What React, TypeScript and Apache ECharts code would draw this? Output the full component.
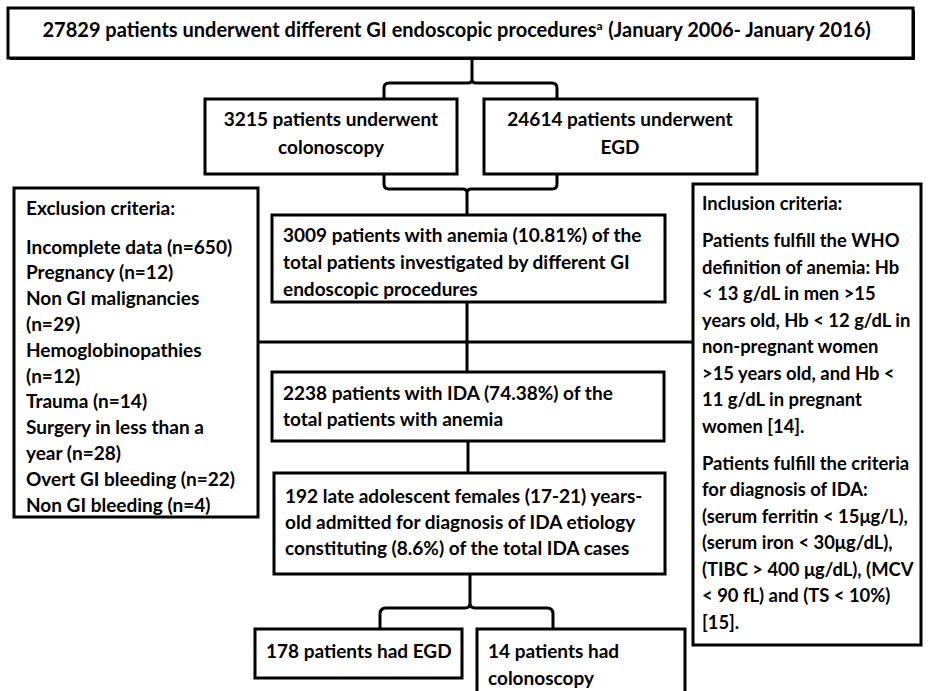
import React, { useEffect, useRef } from "react";
import * as echarts from "echarts";

// ---- content (texts and counts) ----
const titleMain = "27829 patients underwent different GI endoscopic procedures";
const titleSup = "a";
const titleTail = " (January 2006- January 2016)";
const colonoscopyLines = ["3215 patients underwent", "colonoscopy"];
const egdLines = ["24614 patients underwent", "EGD"];
const exclusionHeader = "Exclusion criteria:";
const exclusionLines = [
  "Incomplete data (n=650)",
  "Pregnancy (n=12)",
  "Non GI malignancies",
  "(n=29)",
  "Hemoglobinopathies",
  "(n=12)",
  "Trauma (n=14)",
  "Surgery in less than a",
  "year (n=28)",
  "Overt GI bleeding (n=22)",
  "Non GI bleeding (n=4)",
];
const inclusionHeader = "Inclusion criteria:";
const inclusionWho = [
  "Patients fulfill the WHO",
  "definition of anemia: Hb",
  "< 13 g/dL in men >15",
  "years old, Hb < 12 g/dL in",
  "non-pregnant women",
  ">15 years old, and Hb <",
  "11 g/dL in pregnant",
  "women [14].",
];
const inclusionIda = [
  "Patients fulfill the criteria",
  "for diagnosis of IDA:",
  "(serum ferritin < 15\u03bcg/L),",
  "(serum iron < 30\u03bcg/dL),",
  "(TIBC > 400 \u03bcg/dL), (MCV",
  "< 90 fL) and (TS < 10%)",
  "[15].",
];
const anemiaLines = [
  "3009 patients with anemia (10.81%) of the",
  "total patients investigated by different GI",
  "endoscopic procedures",
];
const idaLines = ["2238 patients with IDA (74.38%) of the", "total patients with anemia"];
const adolescentLines = [
  "192 late adolescent females (17-21) years-",
  "old admitted for diagnosis of IDA etiology",
  "constituting (8.6%) of the total IDA cases",
];
const egdFinalLines = ["178 patients had EGD"];
const colonFinalLines = ["14 patients had", "colonoscopy"];

// ---- connector shapes ----
echarts.graphic.registerShape(
  "braceTop",
  echarts.graphic.extendPath(
    "M472 59 L472 79 Q472 83 468 83 L389 83 Q384 83 384 88 L384 99 M472 79 Q472 83 476 83 L552 83 Q557 83 557 88 L557 99",
    {}
  )
);
echarts.graphic.registerShape(
  "braceMid",
  echarts.graphic.extendPath(
    "M384 174 L384 184 Q384 189 389 189 L463 189 Q467 189 467 193 L467 215 M557 174 L557 184 Q557 189 552 189 L471 189 Q467 189 467 193",
    {}
  )
);
echarts.graphic.registerShape(
  "braceBottom",
  echarts.graphic.extendPath(
    "M470 574 L470 603 Q470 608 465 608 L386 608 Q380 608 380 614 L380 629 M470 603 Q470 608 475 608 L547 608 Q553 608 553 614 L553 629",
    {}
  )
);

const FONT_FAMILY = "Lato";
const FS = 19;
const INCL_FS = 18.4;
const TITLE_FS = 20;
const STROKE = { stroke: "#000", lineWidth: 3, fill: "none" };

function box(x: number, y: number, w: number, h: number) {
  return {
    type: "rect",
    shape: { x, y, width: w, height: h },
    style: { fill: "#fff", stroke: "#000", lineWidth: 3 },
  };
}

function line(x1: number, y1: number, x2: number, y2: number) {
  return { type: "line", shape: { x1, y1, x2, y2 }, style: { stroke: "#000", lineWidth: 3 } };
}

function textLines(lines: string[], x: number, y0: number, step: number, align = "left", fs = FS) {
  return lines.map((t, i) => ({
    type: "text",
    x,
    y: y0 + i * step,
    style: {
      text: t,
      font: `bold ${fs}px ${FONT_FAMILY}`,
      fill: "#000",
      textAlign: align,
      textVerticalAlign: "middle",
    },
  }));
}

export default function App() {
  const ref = useRef<HTMLDivElement>(null);
  useEffect(() => {
    document.body.style.margin = "0";
    const chart = echarts.init(ref.current!, null, { renderer: "svg" });
    const elements: any[] = [
      // connectors
      { type: "braceTop", style: STROKE },
      { type: "braceMid", style: STROKE },
      { type: "braceBottom", style: STROKE },
      line(467, 302, 467, 372),
      line(258, 342, 693, 342),
      line(468, 441, 468, 473),
      // boxes
      { type: "rect", shape: { x: 10, y: 10, width: 905, height: 50 }, style: { fill: "#000" } },
      box(8, 8, 905, 50),
      box(205, 99, 252, 75),
      box(484, 99, 273, 75),
      box(14, 188, 244, 329),
      box(272, 215, 393, 87),
      box(272, 372, 392, 69),
      box(274, 473, 391, 101),
      box(693, 184, 228, 461),
      box(255, 629, 207, 49),
      box(477, 629, 208, 72),
      // title
      {
        type: "text",
        x: 457,
        y: 29,
        style: {
          text: `{n|${titleMain}}{s|${titleSup}}{n|${titleTail}}`,
          textAlign: "center",
          textVerticalAlign: "middle",
          rich: {
            n: { fontSize: TITLE_FS, fontWeight: "bold", fontFamily: FONT_FAMILY, fill: "#000" },
            s: { fontSize: 12, fontWeight: "bold", fontFamily: FONT_FAMILY, fill: "#000", verticalAlign: "top" },
          },
        },
      },
      ...textLines(colonoscopyLines, 331, 118, 28, "center"),
      ...textLines(egdLines, 620, 118, 28, "center"),
      ...textLines([exclusionHeader], 26, 207, 0),
      ...textLines(exclusionLines, 26, 246, 25.8),
      ...textLines([inclusionHeader], 702, 203, 0, "left", INCL_FS),
      ...textLines(inclusionWho, 702, 240, 26.5, "left", INCL_FS),
      ...textLines(inclusionIda, 702, 462.5, 26.5, "left", INCL_FS),
      ...textLines(anemiaLines, 283, 234, 27),
      ...textLines(idaLines, 283, 392, 26),
      ...textLines(adolescentLines, 285, 495, 26),
      ...textLines(egdFinalLines, 266, 650, 26),
      ...textLines(colonFinalLines, 488, 650, 27),
    ];
    chart.setOption({ animation: false, graphic: { elements } });
    return () => chart.dispose();
  }, []);
  return <div ref={ref} style={{ width: 934, height: 691 }} />;
}
